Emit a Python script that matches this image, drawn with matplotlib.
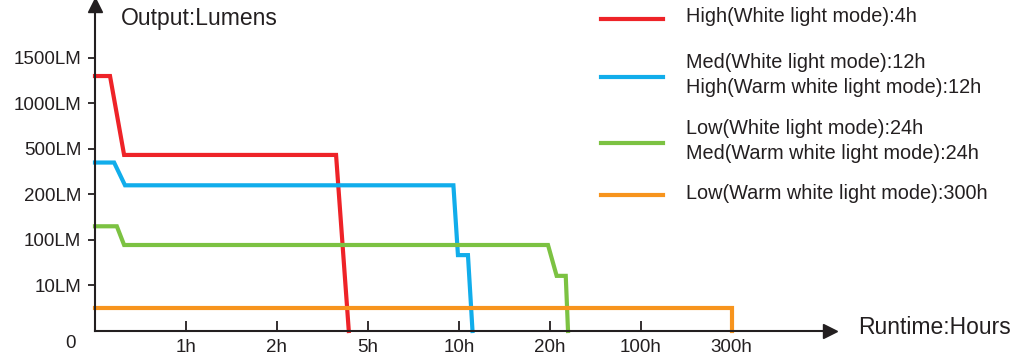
import numpy as np
import matplotlib.pyplot as plt
from matplotlib.lines import Line2D

plt.rcParams['font.family'] = ['Liberation Sans', 'DejaVu Sans']

# tick positions on the (piecewise) axes
x_ticks = [1, 2, 5, 10, 20, 100, 300]
x_labels = ['1h', '2h', '5h', '10h', '20h', '100h', '300h']
y_ticks = [10, 100, 200, 500, 1000, 1500]
y_labels = ['10LM', '100LM', '200LM', '500LM', '1000LM', '1500LM']

# runtime curves (hours, lumens)
red_h = [0, 0.165, 0.32, 3.95, 4.37]
red_lm = [1300, 1300, 460, 460, 0]
blue_h = [0, 0.21, 0.33, 9.7, 9.95, 11.0, 11.5]
blue_lm = [410, 410, 260, 260, 70, 70, 0]
green_h = [0, 0.24, 0.32, 19.8, 26, 34, 36]
green_lm = [130, 130, 90, 90, 29, 29, 0]
orange_h = [0, 300, 300]
orange_lm = [5, 5, 0]

labels = ['High(White light mode):4h',
          'Med(White light mode):12h\nHigh(Warm white light mode):12h',
          'Low(White light mode):24h\nMed(Warm white light mode):24h',
          'Low(Warm white light mode):300h']
colors = ['#EE2328', '#11ADEB', '#7CC242', '#F7941D']

# equal spacing between the listed values
xs = [0, 1, 2, 5, 10, 20, 100, 300, 1300]
xp = [0, 1, 2, 3, 4, 5, 6, 7, 12]
ys = [0, 10, 100, 200, 500, 1000, 1500, 4000]
yp = [0, 1, 2, 3, 4, 5, 6, 11]
fx = lambda v: np.interp(v, xs, xp)
ix = lambda p: np.interp(p, xp, xs)
fy = lambda v: np.interp(v, ys, yp)
iy = lambda p: np.interp(p, yp, ys)

fig = plt.figure(figsize=(10.24, 3.56), dpi=100)
ax = fig.add_axes([95 / 1024, 25 / 356, 735 / 1024, 326 / 356])
ax.set_xscale('function', functions=(fx, ix))
ax.set_yscale('function', functions=(fy, iy))

series = [(red_h, red_lm), (blue_h, blue_lm), (green_h, green_lm), (orange_h, orange_lm)]
for (h, lm), c in zip(series, colors):
    ax.plot(h, lm, color=c, lw=3, solid_joinstyle='miter', clip_on=False)

ax.set_xlim(0, ix(8.08))
ax.set_ylim(0, iy(7.16))
ax.set_xticks(x_ticks)
ax.set_xticklabels(x_labels)
ax.set_yticks(y_ticks)
ax.set_yticklabels(y_labels)
ax.xaxis.set_minor_locator(plt.NullLocator())
ax.yaxis.set_minor_locator(plt.NullLocator())
ax.tick_params(axis='x', direction='in', length=7, width=1.3, labelsize=13.5, pad=5.5, colors='#231F20')
ax.tick_params(axis='y', direction='out', length=5, width=1.3, labelsize=13.5, pad=5, colors='#231F20')
for s in ['top', 'right']:
    ax.spines[s].set_visible(False)
for s in ['left', 'bottom']:
    ax.spines[s].set_linewidth(1.5)
    ax.spines[s].set_color('#231F20')
ax.patch.set_alpha(0)

# arrow heads
ax.plot(1, 0, '>', color='#231F20', ms=10, transform=ax.transAxes, clip_on=False)
ax.plot(0, 1, '^', color='#231F20', ms=10, transform=ax.transAxes, clip_on=False)

fig.text(70 / 1024, 1 - 344 / 356, '0', fontsize=13.5, ha='center', va='center', color='#231F20')
fig.text(121 / 1024, 1 - 19 / 356, 'Output:Lumens', fontsize=16.5, va='center', color='#231F20')
fig.text(858 / 1024, 1 - 328 / 356, 'Runtime:Hours', fontsize=16.5, va='center', color='#231F20')

# legend
leg_y = [19, 77, 143, 195]
for lab, c, y in zip(labels, colors, leg_y):
    fig.add_artist(Line2D([601 / 1024, 663 / 1024], [1 - y / 356] * 2, color=c, lw=3))
    fig.text(686 / 1024, 1 - (y - 2) / 356, lab, fontsize=14.3, va='center', ha='left',
             linespacing=1.42, color='#231F20')

fig.savefig('out.png', dpi=100)
